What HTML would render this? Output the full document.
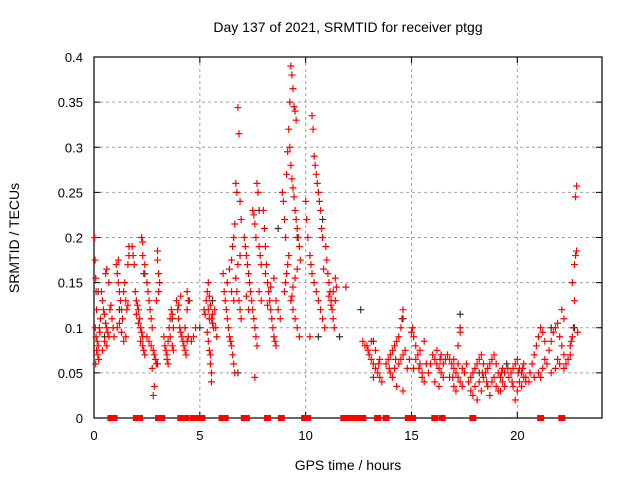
<!DOCTYPE html>
<html><head><meta charset="utf-8"><style>
body{margin:0;background:#fff}
svg{display:block;font-family:"Liberation Sans",sans-serif}
</style></head><body>
<svg id="chart" width="640" height="480" viewBox="0 0 640 480">
<rect width="640" height="480" fill="#fff"/>
<text x="348" y="32" font-size="14" text-anchor="middle">Day 137 of 2021, SRMTID for receiver ptgg</text>
<text transform="translate(19,238) rotate(-90)" font-size="14" text-anchor="middle">SRMTID / TECUs</text>
<text x="348" y="470" font-size="14" text-anchor="middle">GPS time / hours</text>
<g id="grid"></g>
<rect x="94" y="57" width="508" height="361" fill="none" stroke="#000" stroke-width="1.2"/>
<g id="ticks"></g><g id="black"></g><g id="red"></g><g id="zeros"></g>
</svg>
<script>
const xTicks=[0,5,10,15,20];
const yTicks=[0,0.05,0.1,0.15,0.2,0.25,0.3,0.35,0.4];
const yTickLabels=["0","0.05","0.1","0.15","0.2","0.25","0.3","0.35","0.4"];
const zeroTimes=[0.8,0.95,2.0,2.15,3.05,3.2,4.1,4.35,4.7,4.9,5.1,6.05,6.2,7.1,7.2,8.2,8.85,9.95,10.1,11.8,11.95,12.1,12.25,12.4,12.55,12.7,13.4,13.8,14.85,15.05,16.1,16.45,17.9,21.1,22.1];
const redPts=[[0.03,.2],[0.05,.175],[0.08,.155],[0.1,.14],[0.12,.12],[0.06,.1],[0.1,.09],[0.15,.085],[0.2,.08],[0.12,.075],[0.18,.07],[0.22,.065],[0.08,.06],[0.25,.1],[0.3,.11],[0.28,.095],
[0.4,.13],[0.45,.12],[0.5,.115],[0.55,.105],[0.6,.1],[0.65,.095],[0.7,.09],[0.5,.085],[0.6,.08],[0.4,.075],[0.75,.12],[0.8,.125],[0.85,.11],[0.55,.16],[0.6,.165],[0.35,.14],[0.7,.15],[0.9,.1],[0.95,.09],
[1.05,.17],[1.1,.16],[1.15,.15],[1.2,.14],[1.25,.13],[1.3,.12],[1.35,.11],[1.1,.1],[1.2,.105],[1.4,.14],[1.45,.15],[1.5,.13],[1.55,.12],[1.6,.125],[1.3,.095],[1.4,.085],[1.5,.09],[1.15,.175],[1.6,.17],[1.65,.18],[1.65,.19],
[1.8,.19],[1.85,.18],[1.9,.17],[1.95,.14],[2.0,.13],[2.05,.125],[2.1,.12],[2.15,.11],[2.2,.1],[2.25,.095],[2.3,.09],[2.2,.085],[2.3,.08],[2.35,.075],[2.4,.07],[2.0,.115],[2.1,.105],[2.25,.2],[2.3,.195],[2.3,.18],[2.4,.17],[2.35,.16],
[2.5,.15],[2.55,.14],[2.6,.13],[2.65,.12],[2.7,.11],[2.75,.1],[2.5,.09],[2.6,.085],[2.7,.08],[2.8,.075],[2.85,.07],[2.9,.065],[2.95,.06],[2.75,.055],[2.85,.035],[2.8,.025],[3.0,.185],[3.0,.175],[3.05,.16],[3.1,.15],[3.05,.14],[2.95,.13],
[3.3,.09],[3.35,.08],[3.4,.075],[3.45,.07],[3.5,.085],[3.55,.1],[3.6,.11],[3.65,.12],[3.7,.115],[3.75,.1],[3.45,.065],[3.5,.06],[3.6,.09],[3.7,.08],[3.75,.075],
[3.9,.13],[3.95,.12],[4.0,.11],[4.05,.1],[4.1,.095],[4.15,.09],[4.2,.085],[4.25,.08],[4.3,.075],[4.35,.07],[4.4,.085],[4.45,.09],[4.0,.125],[4.1,.135],[4.4,.14],[4.45,.13],[4.4,.12],[4.3,.1],
[4.6,.085],[4.7,.09],[4.8,.1],
[5.2,.12],[5.25,.115],[5.3,.13],[5.35,.14],[5.4,.15],[5.45,.135],[5.5,.125],[5.55,.11],[5.6,.105],[5.65,.1],[5.35,.095],[5.4,.085],[5.45,.075],[5.5,.07],[5.5,.06],[5.55,.05],[5.55,.04],[5.6,.115],[5.7,.12],[5.75,.1],[5.8,.09],[5.4,.12],[5.45,.11],
[6.1,.16],[6.15,.14],[6.2,.13],[6.25,.12],[6.3,.11],[6.35,.1],[6.4,.09],[6.45,.085],[6.5,.08],[6.55,.07],[6.6,.06],[6.65,.05],[6.3,.15],[6.4,.165],[6.5,.175],[6.55,.19],[6.6,.2],[6.65,.215],[6.7,.26],[6.75,.25],[6.8,.344],[6.85,.315],[6.9,.24],[6.95,.22],[6.9,.18],[6.8,.17],[6.7,.155],[6.75,.14],[6.85,.13],[6.9,.12],[6.95,.11],[6.6,.13],[6.5,.14],
[7.1,.2],[7.15,.19],[7.2,.18],[7.25,.17],[7.3,.16],[7.35,.15],[7.4,.14],[7.45,.13],[7.5,.12],[7.55,.11],[7.6,.1],[7.65,.09],[7.5,.23],[7.55,.225],[7.6,.215],[7.65,.2],[7.7,.26],[7.75,.25],[7.8,.19],[7.85,.18],[7.9,.17],[7.6,.045],[7.7,.08],[7.8,.14],[7.9,.13],[7.3,.12],[7.2,.135],
[8.0,.23],[8.05,.21],[8.1,.19],[8.15,.17],[8.2,.15],[8.25,.14],[8.3,.13],[8.35,.12],[8.4,.11],[8.45,.1],[8.5,.09],[8.55,.085],[8.6,.08],[8.1,.16],[8.2,.125],[8.35,.145],[8.5,.155],[8.6,.13],[8.7,.12],[8.8,.11],
[8.9,.25],[8.95,.24],[9.0,.22],[9.05,.2],[9.1,.27],[9.15,.295],[9.2,.32],[9.25,.35],[9.3,.39],[9.35,.38],[9.4,.365],[9.45,.345],[9.5,.34],[9.55,.33],[9.25,.3],[9.3,.28],[9.35,.265],[9.4,.255],[9.45,.245],[9.5,.23],[9.55,.22],[9.6,.21],[9.65,.2],[9.7,.19],[9.2,.18],[9.15,.17],[9.1,.16],[9.05,.15],[9.0,.14],[9.3,.13],[9.4,.12],[9.5,.11],[9.6,.1],[9.7,.09],[9.75,.175],[9.6,.165],[9.5,.155],[9.4,.145],[9.35,.135],
[10.0,.24],[10.05,.22],[10.1,.2],[10.2,.18],[10.25,.17],[10.3,.335],[10.35,.32],[10.4,.29],[10.45,.28],[10.5,.27],[10.55,.26],[10.6,.25],[10.65,.24],[10.7,.23],[10.75,.21],[10.8,.2],[10.3,.16],[10.4,.15],[10.5,.14],[10.6,.13],[10.7,.12],[10.8,.11],[10.9,.1],[10.95,.19],[11.0,.175],[10.85,.165],[10.2,.09],
[11.05,.16],[11.1,.15],[11.15,.14],[11.2,.13],[11.25,.12],[11.3,.11],[11.35,.1],[11.4,.155],[11.45,.145],[11.1,.135],[11.2,.125],[11.3,.14],[11.4,.13],
[11.9,.145],[12.7,.085],[12.8,.08],
[12.9,.08],[13.0,.07],[13.1,.065],[13.2,.06],[13.3,.055],[13.4,.05],[13.5,.045],[13.1,.085],[13.3,.075],[13.5,.065],[13.6,.04],[12.95,.075],[13.2,.045],
[13.8,.06],[13.9,.065],[14.0,.07],[14.1,.075],[14.2,.08],[14.3,.085],[14.4,.09],[14.5,.1],[14.55,.11],[14.6,.12],[14.0,.05],[14.2,.055],[14.4,.06],[14.5,.065],[14.6,.07],[14.7,.075],[14.1,.045],[14.3,.035],[14.6,.03],[14.8,.055],
[15.0,.095],[15.05,.1],[15.1,.09],[15.2,.08],[15.3,.07],[15.4,.06],[15.5,.05],[15.6,.04],[15.2,.065],[15.4,.075],[15.6,.085],[15.7,.06],[15.8,.05],[15.1,.055],[15.5,.045],
[16.0,.07],[16.1,.065],[16.2,.06],[16.3,.055],[16.4,.05],[16.5,.045],[16.2,.075],[16.4,.07],[16.6,.065],[16.1,.04],[16.3,.035],[16.5,.06],
[16.7,.07],[16.8,.065],[16.9,.06],[17.0,.055],[17.1,.05],[17.2,.045],[17.3,.04],[17.4,.035],[17.0,.065],[17.2,.06],[17.4,.055],[17.5,.05],[16.8,.045],[17.1,.03],[17.3,.1],[17.3,.095],[17.2,.08],[17.0,.035],
[17.7,.04],[17.8,.045],[17.9,.05],[18.0,.055],[18.1,.06],[18.2,.065],[18.3,.07],[18.4,.06],[17.8,.03],[18.0,.035],[18.2,.04],[18.4,.045],[17.9,.025],[18.1,.02],[18.3,.03],
[18.5,.05],[18.6,.055],[18.7,.06],[18.8,.065],[18.9,.07],[19.0,.06],[19.1,.05],[19.2,.045],[19.3,.04],[19.4,.05],[18.6,.035],[18.8,.04],[19.0,.035],[19.2,.03],[19.4,.035],[18.7,.025],[19.1,.03],[19.3,.055],
[19.6,.045],[19.7,.05],[19.8,.055],[19.9,.06],[20.0,.065],[20.1,.055],[20.2,.05],[20.3,.045],[20.4,.04],[19.8,.035],[20.0,.03],[20.2,.035],[20.4,.045],[19.9,.02],[20.1,.04],[20.3,.06],
[20.6,.05],[20.7,.06],[20.8,.07],[20.9,.08],[21.0,.09],[21.1,.1],[21.2,.095],[21.3,.085],[20.8,.045],[21.0,.05],[21.2,.055],[21.4,.06],[21.3,.065],[21.1,.045],
[21.5,.075],[21.6,.085],[21.7,.095],[21.8,.1],[21.9,.105],[22.0,.09],[22.1,.08],[22.2,.07],[22.3,.06],[21.6,.05],[21.8,.055],[22.0,.06],[22.2,.055],[22.4,.065],[22.1,.12],[22.2,.11],[21.9,.065],
[22.5,.08],[22.55,.085],[22.6,.09],[22.65,.1],[22.7,.17],[22.75,.18],[22.8,.185],[22.75,.245],[22.8,.257],[22.6,.15],[22.7,.13],[22.5,.07],[22.85,.095],
[18.55,.04],[18.9,.045],[19.25,.05],[19.55,.055],[19.75,.04],[20.05,.05],[20.25,.055],[20.55,.04],[18.35,.05],[17.6,.06],[16.95,.045],[16.35,.065],[15.9,.06],[15.35,.055],[14.9,.065],[14.25,.065],[13.95,.055],[13.45,.06]];
const blackPts=[[0.2,.14],[0.5,.09],[1.2,.12],[2.4,.16],[3.7,.11],[4.5,.13],[5.6,.13],[6.8,.05],[7.8,.23],[8.7,.21],[9.6,.2],[10.8,.22],[11.6,.09],[12.6,.12],[13.2,.085],[14.6,.11],[17.3,.115],[18.2,.05],[19.5,.06],[21.6,.1],[22.7,.1],[10.6,.09],[5.0,.1],[3.0,.06]];
const X0=94,X1=602,Y0=418,Y1=57,XMAX=24,YMAX=0.4;
function xs(t){return X0+(X1-X0)*t/XMAX;}
function ys(v){return Y0-(Y0-Y1)*v/YMAX;}
const NS="http://www.w3.org/2000/svg";
function mk(tag,attrs,parent){const e=document.createElementNS(NS,tag);for(const k in attrs)e.setAttribute(k,attrs[k]);parent.appendChild(e);return e;}
const grid=document.getElementById('grid'),ticks=document.getElementById('ticks');
xTicks.forEach(t=>{
  const x=xs(t);
  if(t>0){const g=mk('line',{x1:x,x2:x,y1:Y1,y2:Y0,stroke:'#a0a0a0','stroke-dasharray':'3,3'},grid);
  
  }
  mk('line',{x1:x,x2:x,y1:Y0,y2:Y0-6,stroke:'#000'},ticks);
  mk('line',{x1:x,x2:x,y1:Y1,y2:Y1+6,stroke:'#000'},ticks);
  const l=mk('text',{x:x,y:Y0+22,'font-size':13,'text-anchor':'middle'},ticks);
  l.textContent=t;
  
  
});
yTicks.forEach((v,i)=>{
  const y=ys(v);
  if(v>0&&v<YMAX){const g=mk('line',{x1:X0,x2:X1,y1:y,y2:y,stroke:'#a0a0a0','stroke-dasharray':'3,3'},grid);
  
  }
  mk('line',{x1:X0,x2:X0+6,y1:y,y2:y,stroke:'#000'},ticks);
  mk('line',{x1:X1,x2:X1-6,y1:y,y2:y,stroke:'#000'},ticks);
  const l=mk('text',{x:X0-11,y:y+5,'font-size':13,'text-anchor':'end'},ticks);
  l.textContent=yTickLabels[i];
  
  
});
function plus(g,t,v,col,name){
  const x=xs(t),y=ys(v);
  const p=mk('path',{d:`M${x-3.5},${y}H${x+3.5}M${x},${y-3.5}V${y+3.5}`,stroke:col,'stroke-width':1.2,fill:'none'},g);
  
  
}
const bg=document.getElementById('black'),rg=document.getElementById('red'),zg=document.getElementById('zeros');
blackPts.forEach(p=>plus(bg,p[0],p[1],'#333','black-point'));
redPts.forEach(p=>plus(rg,p[0],p[1],'#f00','red-point'));
zeroTimes.forEach(t=>{
  const r=mk('rect',{x:xs(t)-3.5,y:Y0-3,width:7,height:6,fill:'#f00'},zg);
  
  
});
</script>
</body></html>
